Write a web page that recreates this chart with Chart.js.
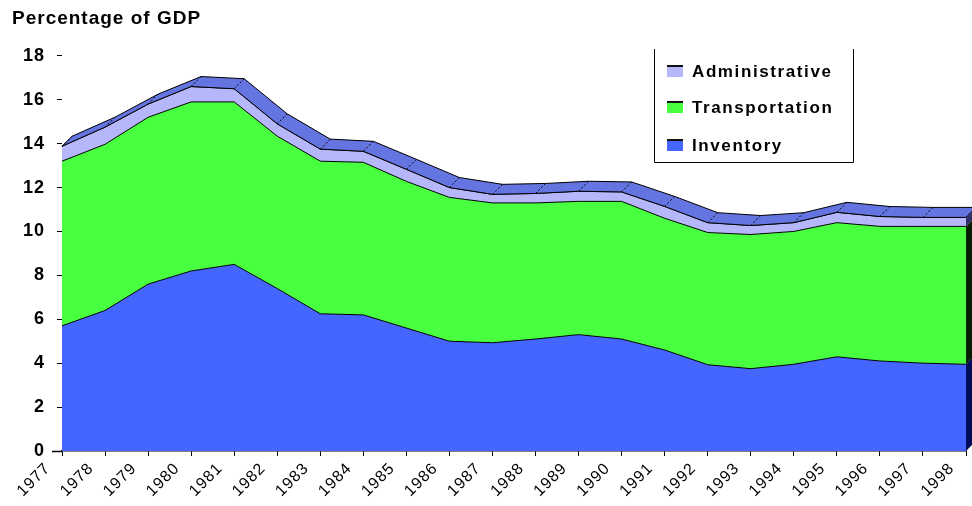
<!DOCTYPE html>
<html>
<head>
<meta charset="utf-8">
<script src="https://cdn.jsdelivr.net/npm/chart.js@4/dist/chart.umd.min.js"></script>
<style>
  html, body { margin: 0; padding: 0; background: #ffffff; }
  #wrap { width: 972px; height: 506px; position: relative; }
</style>
</head>
<body>
<div id="wrap"><canvas id="c"></canvas></div>
<script>
const years = ['1977','1978','1979','1980','1981','1982','1983','1984','1985','1986','1987',
               '1988','1989','1990','1991','1992','1993','1994','1995','1996','1997','1998'];
const inventory = [5.70, 6.40, 7.60, 8.20, 8.50, 7.40, 6.25, 6.20, 5.60, 5.00, 4.93,
                   5.10, 5.30, 5.10, 4.60, 3.93, 3.75, 3.95, 4.29, 4.10, 4.00, 3.95];
const transportation = [7.50, 7.57, 7.60, 7.70, 7.40, 6.94, 6.95, 6.95, 6.68, 6.55, 6.37,
                        6.20, 6.07, 6.27, 6.00, 6.02, 6.11, 6.05, 6.11, 6.13, 6.23, 6.28];
const administrative = [0.68, 0.78, 0.60, 0.70, 0.60, 0.56, 0.55, 0.50, 0.55, 0.45, 0.39,
                        0.43, 0.46, 0.43, 0.54, 0.45, 0.41, 0.40, 0.47, 0.45, 0.41, 0.41];
const yTicks = [0, 2, 4, 6, 8, 10, 12, 14, 16, 18];

const COL_INV = '#4466FF', COL_TRA = '#48FF40', COL_ADM = '#B6B6FA', COL_TOP = '#6474E0';

const spacing = {
  id: 'spacing',
  beforeDraw(chart) { try { chart.ctx.letterSpacing = '1px'; } catch (e) {} },
  afterDraw(chart) { try { chart.ctx.letterSpacing = '0px'; } catch (e) {} }
};

const depth3d = {
  id: 'depth3d',
  afterDatasetsDraw(chart) {
    const ctx = chart.ctx, dx = 10, dy = -10;
    const metas = [0, 1, 2].map(i => chart.getDatasetMeta(i).data);
    const top = metas[2];
    ctx.save();
    ctx.beginPath();
    top.forEach((p, i) => i ? ctx.lineTo(p.x, p.y) : ctx.moveTo(p.x, p.y));
    for (let i = top.length - 1; i >= 0; i--) ctx.lineTo(top[i].x + dx, top[i].y + dy);
    ctx.closePath();
    ctx.fillStyle = COL_TOP;
    ctx.fill();
    ctx.strokeStyle = '#000';
    ctx.lineWidth = 1;
    ctx.stroke();
    ctx.setLineDash([2, 2]);
    top.forEach(p => { ctx.beginPath(); ctx.moveTo(p.x, p.y); ctx.lineTo(p.x + dx, p.y + dy); ctx.stroke(); });
    ctx.setLineDash([]);
    const n = top.length - 1;
    const x = top[n].x;
    const y0 = chart.scales.y.getPixelForValue(0);
    const bottoms = [y0, metas[0][n].y, metas[1][n].y];
    const sideCols = ['#000C5A', '#041E04', '#30306A'];
    for (let k = 0; k < 3; k++) {
      const yb = bottoms[k], yt = metas[k][n].y;
      ctx.beginPath();
      ctx.moveTo(x, yb); ctx.lineTo(x, yt); ctx.lineTo(x + dx, yt + dy); ctx.lineTo(x + dx, yb + dy);
      ctx.closePath();
      ctx.fillStyle = sideCols[k];
      ctx.fill();
    }
    // axis line extension like the original
    ctx.strokeStyle = '#000';
    ctx.lineWidth = 1.5;
    ctx.beginPath();
    ctx.moveTo(chart.chartArea.left - 10, y0 + 0.5);
    ctx.lineTo(chart.chartArea.left, y0 + 0.5);
    ctx.stroke();
    ctx.restore();
  }
};

const boxLegend = {
  id: 'boxLegend',
  afterDraw(chart) {
    const ctx = chart.ctx;
    const L = 654, R = 853, T = 49, B = 162;
    ctx.save();
    ctx.strokeStyle = '#000';
    ctx.lineWidth = 1;
    ctx.beginPath();
    ctx.moveTo(L + 0.5, T); ctx.lineTo(L + 0.5, B + 0.5); ctx.lineTo(R + 0.5, B + 0.5); ctx.lineTo(R + 0.5, T);
    ctx.stroke();
    const order = [2, 1, 0];
    const ys = [71, 107, 145];
    ctx.font = 'bold 17px "Liberation Sans", Arial, sans-serif';
    ctx.textBaseline = 'middle';
    ctx.textAlign = 'left';
    try { ctx.letterSpacing = '1.6px'; } catch (e) {}
    order.forEach((di, k) => {
      const ds = chart.data.datasets[di];
      const y = ys[k];
      ctx.fillStyle = ds.backgroundColor;
      ctx.fillRect(667, y - 5, 16, 11);
      ctx.fillStyle = '#111';
      ctx.fillRect(667, y - 6, 16, 2);
      ctx.fillStyle = '#000';
      ctx.fillText(ds.label, 692, y + 1);
    });
    ctx.restore();
  }
};

new Chart(document.getElementById('c'), {
  type: 'line',
  data: {
    labels: years,
    datasets: [
      { label: 'Inventory', data: inventory, backgroundColor: COL_INV, fill: 'origin' },
      { label: 'Transportation', data: transportation, backgroundColor: COL_TRA, fill: '-1' },
      { label: 'Administrative', data: administrative, backgroundColor: COL_ADM, fill: '-1' }
    ]
  },
  options: {
    responsive: true,
    maintainAspectRatio: false,
    animation: false,
    layout: { padding: { left: 12, right: 6, top: 0, bottom: 0 } },
    elements: {
      line: { tension: 0, borderColor: '#000', borderWidth: 1 },
      point: { radius: 0, hoverRadius: 0 }
    },
    plugins: {
      legend: { display: false },
      tooltip: { enabled: false },
      title: {
        display: true,
        text: 'Percentage of GDP',
        align: 'start',
        color: '#000',
        font: { family: '"Liberation Sans", Arial, sans-serif', size: 19, weight: 'bold', lineHeight: 1.2 },
        padding: { top: 7, bottom: 26 }
      }
    },
    scales: {
      x: {
        type: 'category',
        offset: false,
        afterFit(s) { s.height = 55; s.paddingLeft = 0; s.paddingRight = 0; },
        border: { display: true, color: '#000', width: 1.5 },
        grid: { display: true, drawOnChartArea: false, drawTicks: true, tickLength: 5, color: '#000' },
        ticks: {
          autoSkip: false, minRotation: 45, maxRotation: 45, labelOffset: -14, padding: 3,
          color: '#000',
          font: { family: '"Liberation Sans", Arial, sans-serif', size: 16 }
        }
      },
      y: {
        stacked: true,
        min: 0, max: 18,
        afterFit(s) { s.width = 50; },
        afterBuildTicks(s) { s.ticks = yTicks.map(v => ({ value: v })); },
        border: { display: false },
        grid: { display: true, drawOnChartArea: false, drawTicks: true, tickLength: 5, color: '#000' },
        ticks: {
          padding: 12, color: '#000',
          font: { family: '"Liberation Sans", Arial, sans-serif', size: 18, weight: 'bold' }
        }
      }
    }
  },
  plugins: [spacing, depth3d, boxLegend]
});
</script>
</body>
</html>
